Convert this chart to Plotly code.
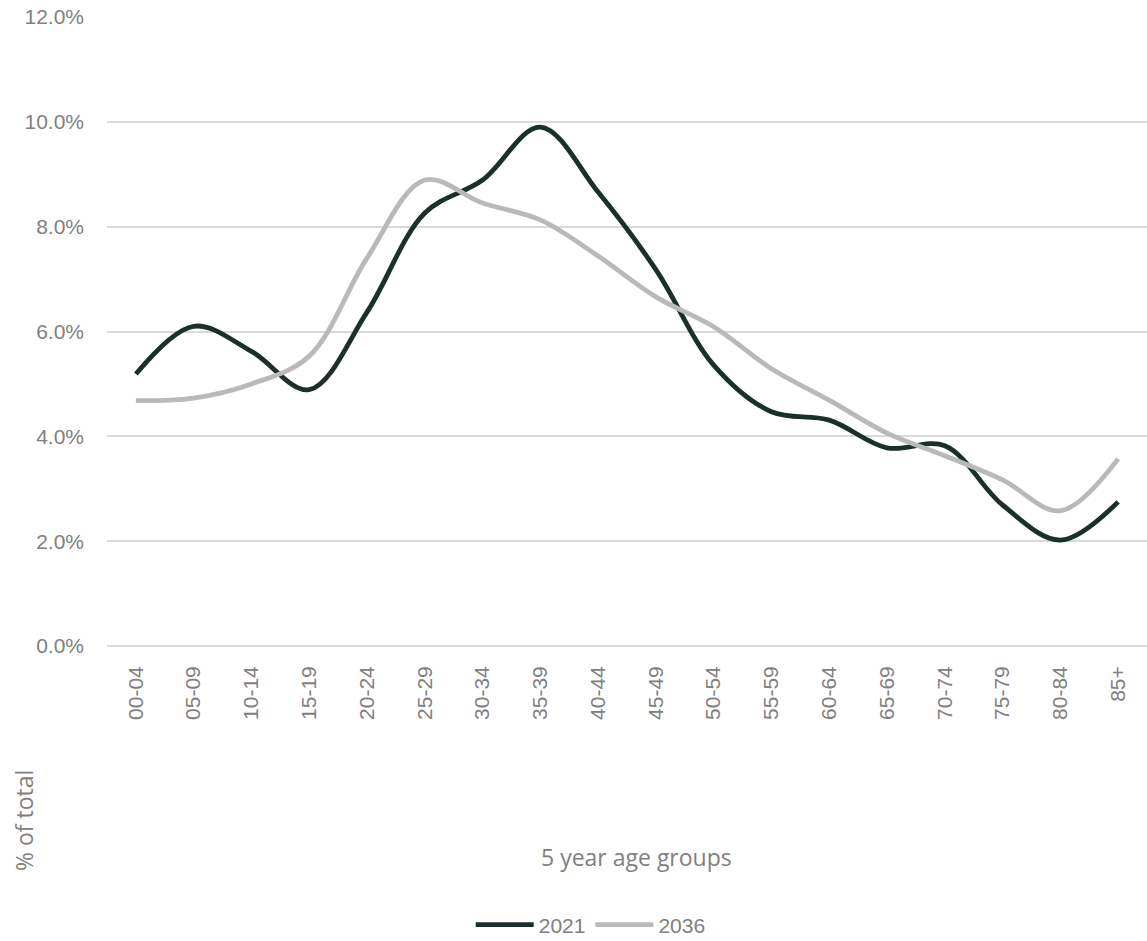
import plotly.graph_objects as go

age_groups = ["00-04", "05-09", "10-14", "15-19", "20-24", "25-29", "30-34", "35-39",
              "40-44", "45-49", "50-54", "55-59", "60-64", "65-69", "70-74", "75-79",
              "80-84", "85+"]
share_2021 = [5.19, 6.10, 5.62, 4.89, 6.37, 8.26, 8.89, 9.90, 8.66, 7.18, 5.36, 4.47,
              4.31, 3.78, 3.82, 2.69, 2.02, 2.75]
share_2036 = [4.68, 4.73, 5.00, 5.53, 7.40, 8.89, 8.45, 8.13, 7.44, 6.66, 6.09, 5.29,
              4.69, 4.06, 3.63, 3.17, 2.58, 3.57]
y_ticks = [0, 2, 4, 6, 8, 10, 12]

color_2021 = "#1b2f2c"
color_2036 = "#b9b9b9"
text_color = "#808080"
font_family = "Liberation Sans, Arial, sans-serif"
title_family = "Open Sans, sans-serif"

fig = go.Figure()
fig.add_trace(go.Scatter(x=age_groups, y=[v / 100 for v in share_2021], name="2021",
                         mode="lines", line=dict(color=color_2021, width=4.8, shape="spline", smoothing=1.0)))
fig.add_trace(go.Scatter(x=age_groups, y=[v / 100 for v in share_2036], name="2036",
                         mode="lines", line=dict(color=color_2036, width=4.8, shape="spline", smoothing=1.0)))

fig.update_layout(
    width=1147, height=941,
    margin=dict(l=107, r=0, t=17, b=295, autoexpand=False),
    plot_bgcolor="white", paper_bgcolor="white",
    font=dict(family=font_family, size=21, color=text_color),
    showlegend=True,
    legend=dict(orientation="h", x=0.515, xanchor="center", xref="container",
                y=16 / 941, yanchor="middle", yref="container",
                font=dict(family=font_family, size=21, color=text_color), itemwidth=58, tracegroupgap=0),
    xaxis=dict(type="category", tickangle=-90, showgrid=False, showline=False, automargin=False,
               ticks="", tickfont=dict(size=21, color=text_color), range=[-0.5, 17.5],
               ticklabelstandoff=15),
    yaxis=dict(range=[0, 0.12], tickvals=[t / 100 for t in y_ticks], automargin=False,
               ticktext=[f"{t:.1f}%" for t in y_ticks],
               showgrid=True, gridcolor="#d9d9d9", gridwidth=1.5,
               zeroline=True, zerolinecolor="#d9d9d9", zerolinewidth=1.5,
               showline=False, ticks="", ticklabelstandoff=22,
               tickfont=dict(size=21, color=text_color)),
)

fig.add_annotation(text="% of total", textangle=-90, xref="paper", yref="paper",
                   x=-0.08, y=-0.277, xanchor="center", yanchor="middle", showarrow=False,
                   font=dict(family=title_family, size=23, color=text_color))
fig.add_annotation(text="5 year age groups", xref="paper", yref="paper",
                   x=0.509, y=-0.336, xanchor="center", yanchor="middle", showarrow=False,
                   font=dict(family=title_family, size=23, color=text_color))

fig.write_html("out.html")
